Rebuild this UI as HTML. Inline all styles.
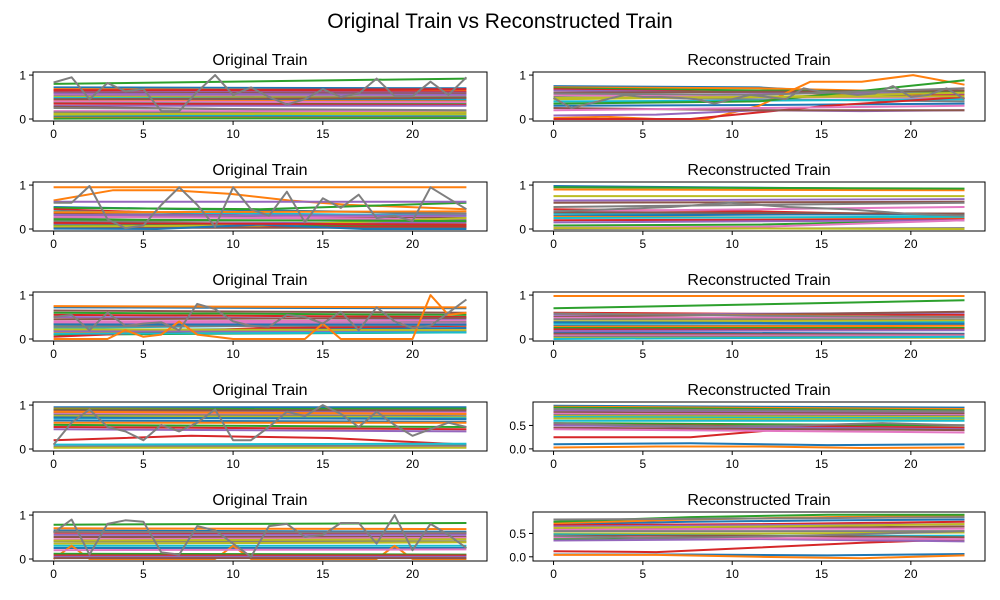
<!DOCTYPE html>
<html><head><meta charset="utf-8"><style>
body{margin:0;background:#fff;}
svg{display:block;font-family:"Liberation Sans","DejaVu Sans",sans-serif;}
</style></head><body>
<svg id="fig" width="1000" height="600" viewBox="0 0 1000 600" xmlns="http://www.w3.org/2000/svg">
<rect width="1000" height="600" fill="#fff"/>
<text x="500" y="28" font-size="21" text-anchor="middle">Original Train vs Reconstructed Train</text>
</svg>
<script>
const xTicks = [0,5,10,15,20];
const nPoints = 24;
// Panel series (values sampled evenly from t=0 to t=23)
const p1Series = [[0.72,0.7],[0.68,0.65],[0.8,0.92],[0.66,0.62],[0.62,0.6],[0.6,0.58],[0.55,0.55],[0.52,0.5],[0.5,0.48],[0.48,0.45],[0.45,0.42],[0.42,0.4],[0.38,0.36],[0.35,0.32],[0.3,0.3],[0.28,0.15],[0.18,0.18],[0.15,0.12],[0.12,0.1],[0.08,0.06],[0.05,0.05],[0.03,0.03],[0.01,0.02],[0.65,0.68],[0.58,0.55],[0.45,0.48],[0.4,0.38],[0.25,0.2],[0.1,0.15]];
const p1Jag = [0.83,0.95,0.45,0.82,0.63,0.68,0.18,0.18,0.62,1.0,0.55,0.72,0.5,0.33,0.45,0.68,0.5,0.58,0.92,0.52,0.52,0.85,0.55,0.95];
const p2Series = [[0.5,0.45,0.4,0.35],[0.65,0.88,0.88,0.8,0.65,0.55,0.5,0.45],[0.48,0.45,0.6],[0.45,0.3,0.2],[0.62,0.62],[0.35,0.3,0.25],[0.3,0.28,0.3],[0.25,0.3,0.35],[0.2,0.1,0.15],[0.15,0.12,0.1],[0.1,0.12,0.05],[0.95,0.95],[0.08,0.08],[0.05,0.05],[0.12,0.15],[0.03,0.03],[0.28,0.22],[0.18,0.2],[0.06,0.08,0.25],[0.4,0.35,0.3],[0.01,0.0,0.1,0.0,0.0],[0.38,0.4],[0.22,0.18],[0.14,0.1],[0.32,0.3]];
const p2Jag = [0.6,0.6,0.98,0.22,0.02,0.08,0.55,0.95,0.55,0.05,0.95,0.45,0.3,0.85,0.15,0.7,0.48,0.78,0.25,0.3,0.18,0.95,0.7,0.45];
const p3Series = [[0.72,0.7],[0.75,0.72],[0.6,0.55],[0.55,0.5],[0.5,0.45],[0.45,0.48],[0.4,0.42],[0.35,0.38],[0.3,0.3],[0.25,0.35],[0.2,0.25],[0.15,0.2],[0.1,0.15],[0.05,0.25,0.3],[0.18,0.18],[0.65,0.6],[0.38,0.35],[0.28,0.32],[0.22,0.2],[0.12,0.15],[0.33,0.33],[0,0,0,0,0.2,0.05,0.1,0.4,0.1,0.05,0,0,0,0,0,0.35,0,0,0,0,0,1.0,0.55,0.6]];
const p3Jag = [0.5,0.55,0.2,0.6,0.3,0.35,0.38,0.2,0.8,0.68,0.4,0.3,0.28,0.55,0.5,0.35,0.62,0.2,0.72,0.4,0.25,0.3,0.6,0.9];
const p4Series = [[0.95,0.95],[0.92,0.9],[0.9,0.92],[0.2,0.3,0.25,0.1],[0.85,0.85],[0.82,0.8],[0.8,0.82],[0.78,0.75],[0.75,0.72],[0.7,0.7],[0.65,0.62],[0.6,0.6],[0.55,0.5],[0.5,0.45],[0.45,0.4],[0.88,0.88],[0.08,0.05],[0.05,0.08],[0.03,0.03],[0.1,0.12],[0.72,0.68],[0.85,0.8]];
const p4Jag = [0.1,0.6,0.9,0.5,0.4,0.2,0.55,0.4,0.6,0.9,0.2,0.2,0.5,0.85,0.75,1.0,0.8,0.5,0.85,0.55,0.3,0.45,0.6,0.5];
const p5Series = [[0.65,0.62],[0.7,0.68],[0.78,0.82],[0.6,0.58],[0.55,0.55],[0.5,0.5],[0.45,0.48],[0.4,0.4],[0.35,0.38],[0.3,0.3],[0.25,0.25],[0,0.3,0,0,0,0,0,0,0,0,0.3,0,0,0,0,0,0,0,0,0.3,0,0,0,0],[0.12,0.1],[0.08,0.08],[0.05,0.05],[0.02,0.02],[0.2,0.22],[0.62,0.6],[0.42,0.45]];
const p5Jag = [0.6,0.9,0.1,0.8,0.88,0.85,0.15,0.1,0.75,0.65,0.35,0.05,0.75,0.8,0.5,0.55,0.82,0.82,0.35,1.0,0.2,0.8,0.55,0.25];
const r1Series = [[0.75,0.72,0.45],[0.72,0.7,0.6],[0.7,0.65,0.62],[0.68,0.6,0.55],[0.65,0.6,0.58],[0.6,0.62,0.65],[0.55,0.5,0.48],[0.5,0.45,0.4],[0.45,0.5,0.6],[0.4,0.42,0.45],[0.3,0.32,0.35],[0.02,0.05,0.0,0.0,0.3,0.85,0.85,1.0,0.78],[0.35,0.4,0.88],[0.0,0.0,0.3,0.5],[0.08,0.1,0.2,0.18,0.2],[0.25,0.2,0.2],[0.2,0.25,0.3],[0.58,0.55,0.7],[0.48,0.5,0.52]];
const r1Jag = [0.48,0.25,0.35,0.45,0.55,0.5,0.5,0.48,0.45,0.35,0.45,0.55,0.5,0.45,0.7,0.62,0.6,0.55,0.58,0.75,0.5,0.55,0.7,0.45];
const r2Series = [[0.98,0.9],[0.9,0.88],[0.95,0.92],[0.45,0.4,0.3],[0.65,0.68],[0.6,0.62],[0.4,0.45,0.5],[0.5,0.55,0.6],[0.75,0.75],[0.35,0.32],[0.3,0.35],[0.28,0.25],[0.08,0.1,0.2],[0.2,0.22],[0.15,0.2],[0.38,0.35],[0.03,0.05,0.2],[0.0,0.02],[0.02,0.0],[0.25,0.28]];
const r2Jag = [0.4,0.45,0.5,0.6,0.5,0.45,0.35,0.3];
const r3Series = [[0.15,0.12],[0.98,0.98],[0.7,0.88],[0.6,0.55],[0.55,0.6],[0.5,0.62],[0.48,0.5],[0.45,0.45],[0.4,0.42],[0.35,0.38],[0.3,0.32],[0.28,0.3],[0.25,0.25],[0.22,0.22],[0.18,0.2],[0.12,0.1],[0.08,0.08],[0.05,0.05],[0.02,0.03],[0.0,0.05],[0.38,0.35],[0.58,0.5]];
const r3Jag = [0.58,0.55,0.52,0.5];
const r4Series = [[0.92,0.88],[0.9,0.85],[0.88,0.82],[0.25,0.25,0.5,0.5],[0.82,0.78],[0.78,0.75],[0.75,0.72],[0.72,0.7],[0.7,0.68],[0.68,0.65],[0.1,0.12,0.08,0.1],[0.03,0.05,0.05,0.02,0.03],[0.55,0.5],[0.52,0.45],[0.5,0.42],[0.45,0.4],[0.42,0.35],[0.85,0.8],[0.65,0.62],[0.6,0.6]];
const r4Jag = [0.55,0.5,0.48,0.5,0.55,0.5];
const r5Series = [[0.7,0.75,0.78,0.8],[0.72,0.8,0.85,0.88],[0.75,0.85,0.9,0.9],[0.68,0.7,0.75],[0.65,0.68,0.7],[0.6,0.62,0.65],[0.58,0.6,0.6],[0.55,0.55,0.55],[0.5,0.5,0.52],[0.48,0.45,0.45],[0.05,0.05,0.03,0.06],[0.04,0.04,0.0,-0.03,0.03],[0.38,0.4,0.35],[0.12,0.1,0.2,0.3,0.38],[0.35,0.38,0.33],[0.45,0.45,0.42],[0.42,0.4,0.38],[0.8,0.82,0.85],[0.62,0.65,0.7]];
const r5Jag = [0.45,0.4,0.42,0.45,0.5,0.55];

const colors = ['#1f77b4','#ff7f0e','#2ca02c','#d62728','#9467bd','#8c564b','#e377c2','#7f7f7f','#bcbd22','#17becf'];
const NS='http://www.w3.org/2000/svg';
const svg=document.getElementById('fig');
function mk(tag,attrs,parent){const e=document.createElementNS(NS,tag);for(const k in attrs)e.setAttribute(k,attrs[k]);(parent||svg).appendChild(e);return e;}

const panels=[
 {s:p1Series,j:p1Jag,col:0,row:0,yl:[-0.045,1.07],yt:[0,1],title:'Original Train'},
 {s:r1Series,j:r1Jag,col:1,row:0,yl:[-0.045,1.07],yt:[0,1],title:'Reconstructed Train'},
 {s:p2Series,j:p2Jag,col:0,row:1,yl:[-0.045,1.07],yt:[0,1],title:'Original Train'},
 {s:r2Series,j:r2Jag,col:1,row:1,yl:[-0.045,1.07],yt:[0,1],title:'Reconstructed Train'},
 {s:p3Series,j:p3Jag,col:0,row:2,yl:[-0.045,1.07],yt:[0,1],title:'Original Train'},
 {s:r3Series,j:r3Jag,col:1,row:2,yl:[-0.045,1.07],yt:[0,1],title:'Reconstructed Train'},
 {s:p4Series,j:p4Jag,col:0,row:3,yl:[-0.045,1.07],yt:[0,1],title:'Original Train'},
 {s:r4Series,j:r4Jag,col:1,row:3,yl:[-0.045,1.0],yt:[0,0.5],title:'Reconstructed Train',fmt:1},
 {s:p5Series,j:p5Jag,col:0,row:4,yl:[-0.045,1.07],yt:[0,1],title:'Original Train'},
 {s:r5Series,j:r5Jag,col:1,row:4,yl:[-0.09,0.96],yt:[0,0.5],title:'Reconstructed Train',fmt:1}
];
const xl=[-1.15,24.15];
panels.forEach((p,pi)=>{
 const L=p.col?533:33, R=p.col?985:487, T=72+110*p.row, B=T+49;
 const xs=v=>L+(v-xl[0])/(xl[1]-xl[0])*(R-L);
 const ys=v=>B-(v-p.yl[0])/(p.yl[1]-p.yl[0])*(B-T);
 const g=mk('g',{});
 
 
 const cp=mk('clipPath',{id:'c'+pi},g);mk('rect',{x:L,y:T,width:R-L,height:B-T},cp);
 const lg=mk('g',{'clip-path':'url(#c'+pi+')'},g);
 const draw=(vals,color,name)=>{
  const n=vals.length;
  const pts=vals.map((v,i)=>xs(i*(nPoints-1)/(n-1)).toFixed(1)+','+ys(v).toFixed(1)).join(' ');
  const pl=mk('polyline',{points:pts,fill:'none',stroke:color,'stroke-width':2,'stroke-linejoin':'round'},lg);
  
  
 };
 p.s.forEach((v,i)=>draw(v,colors[i%10],'series-line'));
 draw(p.j,'#7f7f7f','gray-series-line');
 const fr=mk('rect',{x:L,y:T,width:R-L,height:B-T,fill:'none',stroke:'#000','stroke-width':1},g);
 
 
 xTicks.forEach(t=>{const x=xs(t);mk('line',{x1:x,x2:x,y1:B,y2:B+4,stroke:'#000'},g);
  const tx=mk('text',{x:x,y:B+17,'font-size':12,'text-anchor':'middle'},g);tx.textContent=t;
  
  });
 p.yt.forEach(t=>{const y=ys(t);mk('line',{x1:L-4,x2:L,y1:y,y2:y,stroke:'#000'},g);
  const tx=mk('text',{x:L-7,y:y+4.5,'font-size':12,'text-anchor':'end'},g);tx.textContent=p.fmt?t.toFixed(1):t;
  
  });
 const ti=mk('text',{x:(L+R)/2,y:T-7,'font-size':16,'text-anchor':'middle'},g);ti.textContent=p.title;
 
 
});
</script>
</body></html>
